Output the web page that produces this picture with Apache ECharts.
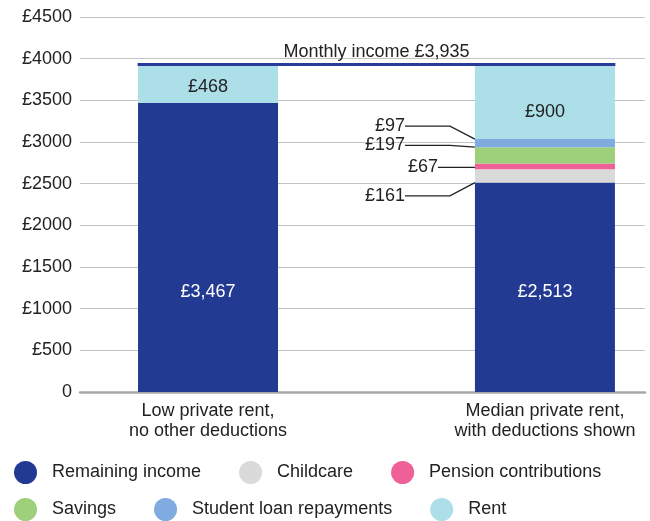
<!DOCTYPE html>
<html>
<head>
<meta charset="utf-8">
<script src="https://cdn.jsdelivr.net/npm/echarts@6/dist/echarts.min.js"></script>
<style>
  html, body { margin: 0; padding: 0; background: #fff; }
  #chart { width: 650px; height: 521px; }
</style>
</head>
<body>
<div id="chart"></div>
<script>
// Monthly budget breakdown for two private-rent scenarios (values in £)
const categories = ['Low private rent,\nno other deductions', 'Median private rent,\nwith deductions shown'];
const remainingIncome = [3467, 2513];
const childcare = [0, 161];
const pension = [0, 67];
const savings = [0, 197];
const studentLoan = [0, 97];
const rent = [468, 900];
const monthlyIncome = 3935;
const yMin = 0, yMax = 4500, yStep = 500;

const FONT = "'Liberation Sans', Arial, Helvetica, sans-serif";
const TEXT = '#222';
const money = v => '£' + v.toLocaleString('en-GB');

// x positions: the two columns sit at 0 and 1 on a value axis
const X_MIN = -0.38, X_MAX = 1.297;
const BAR_HALF = 0.209; // half a column in axis units, used for the income line ends
const RENT_LABEL_SHIFT = [3, 10]; // vertical nudge of the rent labels, px

// Amount is stored first so that stacking runs along the amount (y) dimension
const toItems = values => values.map((v, i) => [v, i]);

function plainSeries(name, values, color, labelColor) {
  return {
    name, type: 'bar', stack: 'total', barWidth: 140,
    encode: { x: 1, y: 0 },
    itemStyle: { color },
    data: toItems(values),
    label: {
      show: true, position: 'inside', color: labelColor,
      fontSize: 18, fontFamily: FONT,
      formatter: p => money(p.value[0])
    }
  };
}

// Small segments get their amount written to the left with a leader line
function calloutSeries(name, values, color, cfg) {
  return {
    name, type: 'bar', stack: 'total', barWidth: 140,
    encode: { x: 1, y: 0 },
    itemStyle: { color },
    data: toItems(values).map(d => ({ value: d, label: { show: d[0] > 0 } })),
    label: {
      position: 'left', distance: cfg.distance, color: TEXT,
      fontSize: 18, fontFamily: FONT, padding: [0, 5, 0, 0],
      formatter: p => money(p.value[0])
    },
    labelLayout: { dy: cfg.dy },
    labelLine: { show: true, length2: cfg.length2, minTurnAngle: 0, lineStyle: { color: TEXT, width: 1.3 } }
  };
}

const remainingSeries = plainSeries('Remaining income', remainingIncome, '#233a93', '#fff');
remainingSeries.label.position = 'insideBottom';
remainingSeries.label.distance = 91;

const rentSeries = plainSeries('Rent', rent, '#acdfe8', TEXT);
rentSeries.data = rentSeries.data.map((d, i) => ({ value: d, label: { offset: [0, RENT_LABEL_SHIFT[i]] } }));
rentSeries.markLine = {
  silent: true, symbol: 'none', animation: false,
  lineStyle: { color: '#2a3c98', width: 3, type: 'solid' },
  label: {
    show: true, position: 'middle', distance: 3, color: TEXT,
    fontSize: 18, fontFamily: FONT,
    formatter: 'Monthly income ' + money(monthlyIncome)
  },
  data: [[{ coord: [0 - BAR_HALF, monthlyIncome] }, { coord: [1 + BAR_HALF, monthlyIncome] }]]
};

const legendBase = {
  left: 9, itemWidth: 23, itemHeight: 23, itemGap: 38, icon: 'circle',
  selectedMode: false,
  textStyle: { fontSize: 18, color: TEXT, fontFamily: FONT, padding: [0, 0, 0, 10] }
};

const option = {
  animation: false,
  textStyle: { fontFamily: FONT },
  grid: { left: 80, right: 5, top: 17, bottom: 129 },
  legend: [
    Object.assign({}, legendBase, { top: 456, data: ['Remaining income', 'Childcare', 'Pension contributions'] }),
    Object.assign({}, legendBase, { top: 493, data: ['Savings', 'Student loan repayments', 'Rent'] })
  ],
  xAxis: {
    type: 'value', min: X_MIN, max: X_MAX,
    splitLine: { show: false },
    axisTick: { show: false },
    axisLine: { show: true, onZero: false, lineStyle: { color: '#a8a8a8', width: 2.5 } },
    axisLabel: {
      customValues: [0, 1],
      color: TEXT, fontSize: 18, fontFamily: FONT, lineHeight: 20, margin: 9,
      formatter: v => (Number.isInteger(v) && categories[v]) ? categories[v] : ''
    }
  },
  yAxis: {
    type: 'value', min: yMin, max: yMax, interval: yStep,
    axisLine: { show: false },
    axisTick: { show: false },
    splitLine: { lineStyle: { color: '#c4c4c4', width: 1.2 } },
    axisLabel: {
      color: TEXT, fontSize: 18, fontFamily: FONT, margin: 8,
      formatter: v => v === 0 ? '0' : '£' + v
    }
  },
  series: [
    remainingSeries,
    calloutSeries('Childcare', childcare, '#dadada', { distance: 65, dy: 20, length2: 45 }),
    calloutSeries('Pension contributions', pension, '#ef5f98', { distance: 32, dy: 1, length2: 0 }),
    calloutSeries('Savings', savings, '#9ed07b', { distance: 65, dy: -10, length2: 45 }),
    calloutSeries('Student loan repayments', studentLoan, '#80abe0', { distance: 65, dy: -17, length2: 45 }),
    rentSeries
  ]
};

const chart = echarts.init(document.getElementById('chart'), null, { renderer: 'canvas' });
chart.setOption(option);
</script>
</body>
</html>
